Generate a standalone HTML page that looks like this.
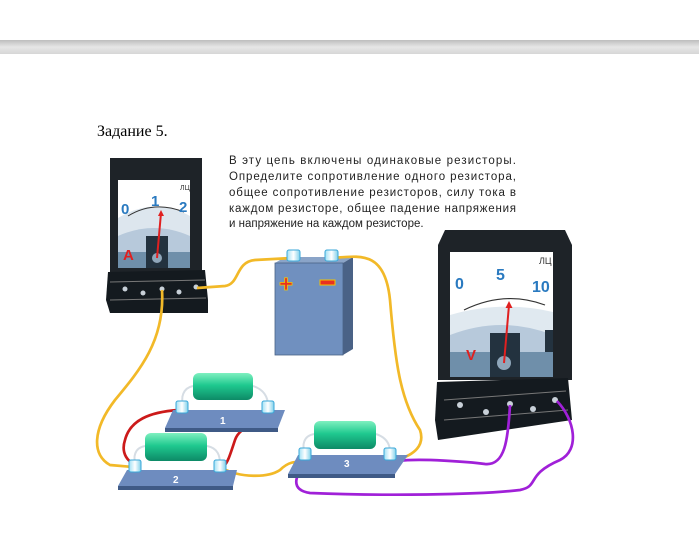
<!DOCTYPE html>
<html><head><meta charset="utf-8"><style>
html,body{margin:0;padding:0;background:#fff;}
svg{display:block}
</style></head><body>
<svg width="699" height="541" viewBox="0 0 699 541" xmlns="http://www.w3.org/2000/svg">
<defs>
<linearGradient id="bar" x1="0" y1="0" x2="0" y2="1"><stop offset="0" stop-color="#bdbdbd"/><stop offset="0.5" stop-color="#e6e6e6"/><stop offset="1" stop-color="#d6d6d6"/></linearGradient>
<linearGradient id="res" x1="0" y1="0" x2="0" y2="1"><stop offset="0" stop-color="#7ff0c0"/><stop offset="0.45" stop-color="#1fc98f"/><stop offset="1" stop-color="#0d8a66"/></linearGradient>
<linearGradient id="term" x1="0" y1="0" x2="1" y2="0"><stop offset="0" stop-color="#9fe0f5"/><stop offset="0.5" stop-color="#ffffff"/><stop offset="1" stop-color="#7fd0ea"/></linearGradient>
</defs>
<rect x="0" y="40" width="699" height="14" fill="url(#bar)"/>
<text x="97" y="136" font-family="Liberation Serif, serif" font-size="16" fill="#000">Задание 5.</text>
<g font-family="Liberation Sans, sans-serif" font-size="11.5" fill="#222">
<text x="229" y="164" textLength="287">В эту цепь включены одинаковые резисторы.</text>
<text x="229" y="180" textLength="287">Определите сопротивление одного резистора,</text>
<text x="229" y="196" textLength="287">общее сопротивление резисторов, силу тока в</text>
<text x="229" y="212" textLength="287">каждом резисторе, общее падение напряжения</text>
<text x="229" y="227">и напряжение на каждом резисторе.</text>
</g>

<!-- Ammeter -->
<rect x="110" y="158" width="92" height="114" fill="#1e2328"/>
<rect x="118" y="180" width="72" height="88" fill="#fff"/>
<path d="M118 218 Q154 196 190 216 L190 268 L118 268Z" fill="#dde6ee"/>
<path d="M118 236 Q154 220 190 236 L190 268 L118 268Z" fill="#b7c9db"/>
<rect x="118" y="252" width="72" height="16" fill="#6f8faa"/>
<rect x="146" y="236" width="22" height="32" fill="#23323f"/>
<circle cx="157" cy="258" r="5" fill="#8fa6ba"/>
<path d="M128 216 Q154 200 184 212" stroke="#333" fill="none" stroke-width="1"/>
<line x1="157" y1="258" x2="161" y2="213" stroke="#e02020" stroke-width="2"/>
<path d="M161 210 l-3 6 h6z" fill="#e02020"/>
<g font-family="Liberation Sans, sans-serif" font-weight="bold" fill="#2a7ac0" font-size="15">
<text x="121" y="214">0</text><text x="151" y="206">1</text><text x="179" y="212">2</text></g>
<text x="123" y="260" font-family="Liberation Sans, sans-serif" font-weight="bold" fill="#e02020" font-size="15">A</text>
<text x="180" y="190" font-family="Liberation Sans, sans-serif" fill="#333" font-size="7">ЛЦ</text>
<path d="M108 272 L205 270 L208 300 L208 313 L110 313 L106 300Z" fill="#141a1f"/>
<line x1="110" y1="282" x2="205" y2="280" stroke="#777" stroke-width="1"/>
<line x1="110" y1="300" x2="206" y2="298" stroke="#777" stroke-width="1"/>
<g fill="#c8d0d8"><circle cx="125" cy="289" r="2.5"/><circle cx="143" cy="293" r="2.5"/><circle cx="162" cy="289" r="2.5"/><circle cx="179" cy="292" r="2.5"/><circle cx="196" cy="287" r="2.5"/></g>

<!-- Battery -->
<path d="M275 263 L285 257 L353 257 L343 263Z" fill="#8aa4c8"/>
<path d="M343 263 L353 257 L353 349 L343 355Z" fill="#4a6286"/>
<rect x="275" y="263" width="68" height="92" fill="#7090bf" stroke="#4a6286" stroke-width="0.8"/>
<text x="279" y="292" font-family="Liberation Sans, sans-serif" font-weight="bold" fill="#e83020" stroke="#f4c400" stroke-width="0.8" font-size="24">+</text>
<rect x="320" y="280" width="15" height="5" fill="#e83020" stroke="#f4c400" stroke-width="1"/>

<!-- Voltmeter -->
<path d="M445 230 L565 230 L572 245 L572 380 L438 380 L438 245Z" fill="#1e2328"/>
<rect x="450" y="252" width="103" height="125" fill="#fff"/>
<path d="M450 315 Q502 300 553 312 L553 377 L450 377Z" fill="#e0e9f0"/>
<path d="M450 335 Q502 315 553 335 L553 377 L450 377Z" fill="#b7c9db"/>
<rect x="450" y="352" width="103" height="25" fill="#6f8faa"/>
<rect x="545" y="330" width="8" height="22" fill="#23323f"/>
<rect x="490" y="333" width="30" height="44" fill="#23323f"/>
<circle cx="504" cy="363" r="7" fill="#8fa6ba"/>
<path d="M464 310 Q505 290 545 305" stroke="#333" fill="none" stroke-width="1.2"/>
<line x1="504" y1="363" x2="509" y2="305" stroke="#e02020" stroke-width="2"/>
<path d="M509 301 l-3.5 7 h7z" fill="#e02020"/>
<g font-family="Liberation Sans, sans-serif" font-weight="bold" fill="#2a7ac0" font-size="16">
<text x="455" y="289">0</text><text x="496" y="280">5</text><text x="532" y="292">10</text></g>
<text x="466" y="360" font-family="Liberation Sans, sans-serif" font-weight="bold" fill="#e02020" font-size="15">V</text>
<text x="539" y="264" font-family="Liberation Sans, sans-serif" fill="#333" font-size="9">ЛЦ</text>
<path d="M437 382 L568 378 L572 420 L438 440 L435 420Z" fill="#141a1f"/>
<line x1="444" y1="400" x2="566" y2="391" stroke="#777" stroke-width="1"/>
<line x1="444" y1="420" x2="568" y2="410" stroke="#777" stroke-width="1"/>
<g fill="#c8d0d8"><circle cx="460" cy="405" r="3"/><circle cx="486" cy="412" r="3"/><circle cx="510" cy="404" r="3"/><circle cx="533" cy="409" r="3"/><circle cx="555" cy="400" r="3"/></g>

<!-- Wires yellow -->
<g fill="none" stroke="#f2b928" stroke-width="2.7">
<path d="M162 290 C165 340 140 370 115 400 C92 430 92 455 110 465 L133 467"/>
<path d="M197 288 L225 286 C240 284 235 262 255 260 L292 258"/>
<path d="M332 258 C360 256 385 250 390 300 C395 360 400 400 420 430 C425 445 415 455 396 460"/>
<path d="M222 468 C240 478 268 478 280 470 C290 460 298 462 304 462"/>
</g>
<!-- Wires red -->
<g fill="none" stroke="#cc1a1a" stroke-width="2.7">
<path d="M178 410 C150 412 130 420 125 440 C120 455 130 462 135 466"/>
<path d="M266 410 C260 425 240 425 235 440 C230 455 228 462 224 466"/>
</g>
<!-- Purple -->
<g fill="none" stroke="#a020d8" stroke-width="2.7">
<path d="M398 461 C420 458 470 462 485 464 C505 466 508 440 510 405"/>
<path d="M305 466 C295 475 290 490 310 493 C380 496 480 495 520 490 C540 486 525 475 560 460 C580 450 575 420 557 401"/>
</g>

<!-- Resistor boards -->
<g>
<path d="M173 410 L285 410 L278 428 L165 428Z" fill="#6e8cbf"/>
<path d="M165 428 L278 428 L278 432 L165 432Z" fill="#3f5a86"/>
<text x="220" y="424" font-family="Liberation Sans, sans-serif" font-size="10" font-weight="bold" fill="#fff">1</text>
<path d="M127 470 L237 470 L233 486 L118 486Z" fill="#6e8cbf"/>
<path d="M118 486 L233 486 L233 490 L118 490Z" fill="#3f5a86"/>
<text x="173" y="483" font-family="Liberation Sans, sans-serif" font-size="10" font-weight="bold" fill="#fff">2</text>
<path d="M298 455 L408 455 L395 474 L288 474Z" fill="#6e8cbf"/>
<path d="M288 474 L395 474 L395 478 L288 478Z" fill="#3f5a86"/>
<text x="344" y="467" font-family="Liberation Sans, sans-serif" font-size="10" font-weight="bold" fill="#fff">3</text>
</g>
<!-- leads -->
<g fill="none" stroke="#d6dde4" stroke-width="2">
<path d="M193 386 C183 388 180 398 184 406"/><path d="M253 386 C265 390 268 398 268 406"/>
<path d="M145 446 C134 448 133 458 136 464"/><path d="M207 446 C218 448 220 456 220 464"/>
<path d="M314 434 C303 436 302 446 305 452"/><path d="M376 434 C388 438 390 446 390 452"/>
</g>
<!-- resistors -->
<g>
<rect x="193" y="373" width="60" height="27" rx="6" fill="url(#res)"/>
<rect x="145" y="433" width="62" height="28" rx="6" fill="url(#res)"/>
<rect x="314" y="421" width="62" height="28" rx="6" fill="url(#res)"/>
</g>
<!-- terminals -->
<g fill="url(#term)" stroke="#3aa7d8" stroke-width="1">
<rect x="176" y="401" width="12" height="12" rx="2"/><rect x="262" y="401" width="12" height="12" rx="2"/>
<rect x="129" y="460" width="12" height="12" rx="2"/><rect x="214" y="460" width="12" height="12" rx="2"/>
<rect x="299" y="448" width="12" height="12" rx="2"/><rect x="384" y="448" width="12" height="12" rx="2"/>
<rect x="287" y="250" width="13" height="11" rx="2"/><rect x="325" y="250" width="13" height="11" rx="2"/>
</g>
</svg>
</body></html>
